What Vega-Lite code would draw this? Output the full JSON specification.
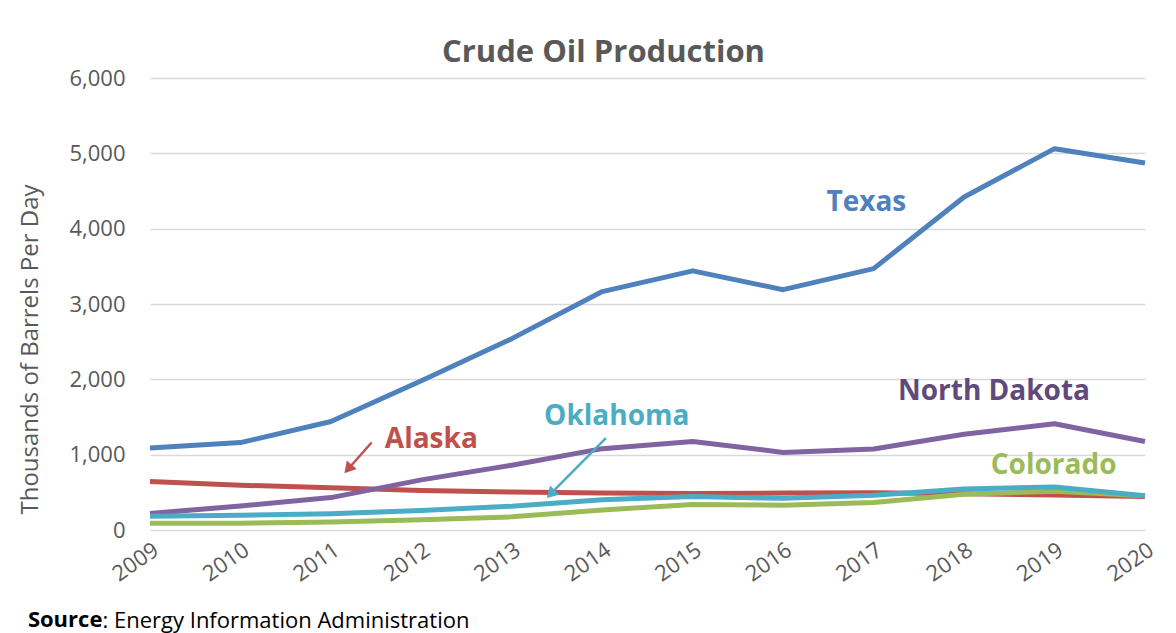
{
  "$schema": "https://vega.github.io/schema/vega-lite/v6.json",
  "width": 995,
  "height": 452,
  "autosize": "none",
  "padding": {"left": 150, "top": 78, "right": 31, "bottom": 103},
  "background": "white",
  "config": {
    "font": "Open Sans",
    "view": {"stroke": null}
  },
  "title": {
    "text": "Crude Oil Production",
    "fontSize": 31,
    "fontWeight": "bold",
    "color": "#595959",
    "font": "Open Sans",
    "anchor": "middle",
    "dx": -44,
    "baseline": "alphabetic",
    "offset": -26
  },
  "datasets": {
    "production": [
      {"year": 2009, "state": "Texas", "value": 1090},
      {"year": 2010, "state": "Texas", "value": 1160},
      {"year": 2011, "state": "Texas", "value": 1440},
      {"year": 2012, "state": "Texas", "value": 1980},
      {"year": 2013, "state": "Texas", "value": 2540},
      {"year": 2014, "state": "Texas", "value": 3165},
      {"year": 2015, "state": "Texas", "value": 3440},
      {"year": 2016, "state": "Texas", "value": 3190},
      {"year": 2017, "state": "Texas", "value": 3470},
      {"year": 2018, "state": "Texas", "value": 4420},
      {"year": 2019, "state": "Texas", "value": 5062},
      {"year": 2020, "state": "Texas", "value": 4871},
      {"year": 2009, "state": "Alaska", "value": 645},
      {"year": 2010, "state": "Alaska", "value": 595},
      {"year": 2011, "state": "Alaska", "value": 560},
      {"year": 2012, "state": "Alaska", "value": 525},
      {"year": 2013, "state": "Alaska", "value": 505},
      {"year": 2014, "state": "Alaska", "value": 490},
      {"year": 2015, "state": "Alaska", "value": 485},
      {"year": 2016, "state": "Alaska", "value": 490},
      {"year": 2017, "state": "Alaska", "value": 495},
      {"year": 2018, "state": "Alaska", "value": 480},
      {"year": 2019, "state": "Alaska", "value": 465},
      {"year": 2020, "state": "Alaska", "value": 445},
      {"year": 2009, "state": "North Dakota", "value": 220},
      {"year": 2010, "state": "North Dakota", "value": 320},
      {"year": 2011, "state": "North Dakota", "value": 430},
      {"year": 2012, "state": "North Dakota", "value": 665},
      {"year": 2013, "state": "North Dakota", "value": 860},
      {"year": 2014, "state": "North Dakota", "value": 1080},
      {"year": 2015, "state": "North Dakota", "value": 1175},
      {"year": 2016, "state": "North Dakota", "value": 1030},
      {"year": 2017, "state": "North Dakota", "value": 1075},
      {"year": 2018, "state": "North Dakota", "value": 1272},
      {"year": 2019, "state": "North Dakota", "value": 1410},
      {"year": 2020, "state": "North Dakota", "value": 1175},
      {"year": 2009, "state": "Colorado", "value": 90},
      {"year": 2010, "state": "Colorado", "value": 90},
      {"year": 2011, "state": "Colorado", "value": 105},
      {"year": 2012, "state": "Colorado", "value": 135},
      {"year": 2013, "state": "Colorado", "value": 175},
      {"year": 2014, "state": "Colorado", "value": 265},
      {"year": 2015, "state": "Colorado", "value": 340},
      {"year": 2016, "state": "Colorado", "value": 330},
      {"year": 2017, "state": "Colorado", "value": 365},
      {"year": 2018, "state": "Colorado", "value": 475},
      {"year": 2019, "state": "Colorado", "value": 515},
      {"year": 2020, "state": "Colorado", "value": 455},
      {"year": 2009, "state": "Oklahoma", "value": 184},
      {"year": 2010, "state": "Oklahoma", "value": 195},
      {"year": 2011, "state": "Oklahoma", "value": 215},
      {"year": 2012, "state": "Oklahoma", "value": 260},
      {"year": 2013, "state": "Oklahoma", "value": 315},
      {"year": 2014, "state": "Oklahoma", "value": 400},
      {"year": 2015, "state": "Oklahoma", "value": 445},
      {"year": 2016, "state": "Oklahoma", "value": 420},
      {"year": 2017, "state": "Oklahoma", "value": 460},
      {"year": 2018, "state": "Oklahoma", "value": 545},
      {"year": 2019, "state": "Oklahoma", "value": 570},
      {"year": 2020, "state": "Oklahoma", "value": 455}
    ],
    "labels": [
      {"label": "Texas", "x": 2016.92, "y": 4337, "color": "#4F81BD"},
      {"label": "North Dakota", "x": 2018.33, "y": 1830, "color": "#604A7B"},
      {"label": "Oklahoma", "x": 2014.16, "y": 1499, "color": "#4BACC6"},
      {"label": "Alaska", "x": 2012.11, "y": 1194, "color": "#C0504D"},
      {"label": "Colorado", "x": 2018.99, "y": 849, "color": "#9BBB59"}
    ],
    "arrows": [
      {"name": "Alaska", "x": 2011.45, "y": 1161, "x2": 2011.22, "y2": 850, "hx": 2011.19, "hy": 810, "angle": 220.6, "color": "#C0504D"},
      {"name": "Oklahoma", "x": 2014.04, "y": 1220, "x2": 2013.47, "y2": 530, "hx": 2013.43, "hy": 477, "angle": 225, "color": "#4BACC6"}
    ],
    "source": [
      {"text": "Source", "x": 2007.65, "y": -1286}
    ]
  },
  "layer": [
    {
      "data": {"name": "production"},
      "mark": {"type": "line", "strokeWidth": 5, "strokeJoin": "round", "strokeCap": "butt"},
      "encoding": {
        "x": {
          "field": "year",
          "type": "quantitative",
          "scale": {"domain": [2009, 2020], "nice": false, "zero": false},
          "axis": {
            "values": [2009, 2010, 2011, 2012, 2013, 2014, 2015, 2016, 2017, 2018, 2019, 2020],
            "format": "d",
            "labelAngle": -35,
            "labelAlign": "right",
            "labelBaseline": "top",
            "labelFontSize": 22,
            "labelColor": "#595959",
            "labelPadding": 9,
            "labelFlush": false,
            "labelOverlap": false,
            "grid": false,
            "domain": false,
            "ticks": false,
            "title": ": Energy Information Administration",
            "titleFontSize": 22,
            "titleFontWeight": "normal",
            "titleColor": "#000000",
            "titleAnchor": "start",
            "titleAlign": "left",
            "titleBaseline": "alphabetic",
            "titleX": -48,
            "titleY": 97
          }
        },
        "y": {
          "field": "value",
          "type": "quantitative",
          "scale": {"domain": [0, 6000], "nice": false},
          "axis": {
            "values": [0, 1000, 2000, 3000, 4000, 5000, 6000],
            "format": ",d",
            "labelFontSize": 22,
            "labelColor": "#595959",
            "labelPadding": 25,
            "grid": true,
            "gridColor": "#d9d9d9",
            "gridWidth": 1.5,
            "domain": false,
            "ticks": false,
            "title": "Thousands of Barrels Per Day",
            "titleFontSize": 24,
            "titleFontWeight": "normal",
            "titleColor": "#595959",
            "titleY": 271,
            "titleAnchor": "middle",
            "titlePadding": 26
          }
        },
        "color": {
          "field": "state",
          "type": "nominal",
          "scale": {
            "domain": ["Texas", "Alaska", "North Dakota", "Colorado", "Oklahoma"],
            "range": ["#4F81BD", "#C0504D", "#8064A2", "#9BBB59", "#4BACC6"]
          },
          "legend": null
        }
      }
    },
    {
      "data": {"name": "arrows"},
      "mark": {"type": "rule", "strokeWidth": 2.5},
      "encoding": {
        "x": {"field": "x", "type": "quantitative"},
        "y": {"field": "y", "type": "quantitative"},
        "x2": {"field": "x2"},
        "y2": {"field": "y2"},
        "color": {"field": "color", "type": "nominal", "scale": null}
      }
    },
    {
      "data": {"name": "arrows"},
      "mark": {"type": "point", "shape": "triangle-up", "filled": true, "size": 170, "opacity": 1},
      "encoding": {
        "x": {"field": "hx", "type": "quantitative"},
        "y": {"field": "hy", "type": "quantitative"},
        "angle": {"field": "angle", "type": "quantitative", "scale": null},
        "color": {"field": "color", "type": "nominal", "scale": null}
      }
    },
    {
      "data": {"name": "labels"},
      "mark": {"type": "text", "fontSize": 28, "fontWeight": "bold", "align": "center", "baseline": "middle"},
      "encoding": {
        "x": {"field": "x", "type": "quantitative"},
        "y": {"field": "y", "type": "quantitative"},
        "text": {"field": "label"},
        "color": {"field": "color", "type": "nominal", "scale": null}
      }
    },
    {
      "data": {"name": "source"},
      "mark": {"type": "text", "fontSize": 22, "fontWeight": "bold", "color": "#000000", "align": "left", "baseline": "alphabetic"},
      "encoding": {
        "x": {"field": "x", "type": "quantitative"},
        "y": {"field": "y", "type": "quantitative"},
        "text": {"field": "text"}
      }
    }
  ]
}
